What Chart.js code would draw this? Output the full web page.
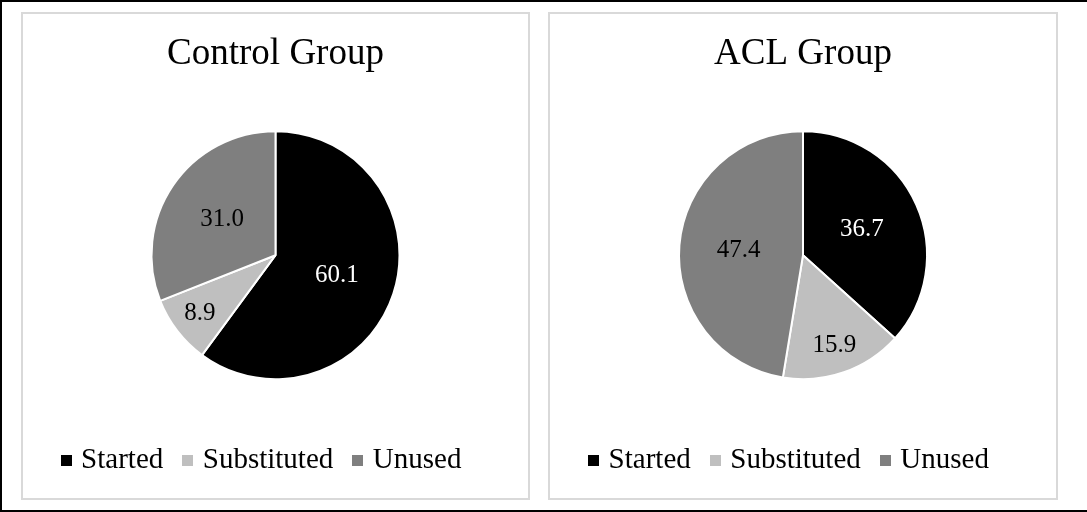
<!DOCTYPE html>
<html>
<head>
<meta charset="utf-8">
<script src="https://cdn.jsdelivr.net/npm/chart.js@4.4.1/dist/chart.umd.min.js"></script>
<style>
  body { margin: 0; background: #fff; }
  #frame {
    position: relative; width: 1087px; height: 512px; box-sizing: border-box;
    border-top: 2px solid #000; border-left: 2px solid #000; border-bottom: 2px solid #000;
    overflow: hidden; background: #fff;
  }
  .panel { position: absolute; top: 10px; height: 488px; border: 2px solid #d9d9d9; box-sizing: border-box; }
  #panelA { left: 19px; width: 509px; }
  #panelB { left: 546px; width: 510px; }
  .panel canvas { position: absolute; left: 0; top: 0; }
</style>
</head>
<body>
<div id="frame">
  <div class="panel" id="panelA"><canvas id="chartA" width="505" height="471"></canvas></div>
  <div class="panel" id="panelB"><canvas id="chartB" width="506" height="471"></canvas></div>
</div>
<script>
// shares of players per group (%)
const categories = ['Started', 'Substituted', 'Unused'];
const controlValues = [60.1, 8.9, 31.0];
const aclValues = [36.7, 15.9, 47.4];
const groupTitles = ['Control Group', 'ACL Group'];
const sliceColors = ['#000000', '#bfbfbf', '#7f7f7f'];

const serif = '"Liberation Serif", "Times New Roman", serif';

// small filled square used as the legend marker
function squareMarker(color) {
  var c = document.createElement('canvas');
  c.width = 11;
  c.height = 11;
  var g = c.getContext('2d');
  g.fillStyle = color;
  g.fillRect(0, 0, 11, 11);
  return c;
}

// value labels inside each slice, small slices get pushed further out
const sliceLabels = {
  id: 'sliceLabels',
  afterLayout(chart) {
    // legend sits a little left of the panel centre
    chart.legend.left -= 12;
    chart.legend.right -= 12;
  },
  afterDatasetsDraw(chart) {
    var ctx = chart.ctx;
    var meta = chart.getDatasetMeta(0);
    var values = chart.data.datasets[0].data;
    ctx.save();
    ctx.font = '25px ' + serif;
    ctx.textAlign = 'center';
    ctx.textBaseline = 'middle';
    meta.data.forEach(function (arc, i) {
      var p = arc.getProps(['x', 'y', 'startAngle', 'endAngle', 'outerRadius'], true);
      var mid = (p.startAngle + p.endAngle) / 2;
      var r = p.outerRadius * (values[i] < 20 ? 0.77 : 0.52);
      ctx.fillStyle = sliceColors[i] === '#000000' ? '#ffffff' : '#000000';
      ctx.fillText(values[i].toFixed(1), p.x + Math.cos(mid) * r, p.y + Math.sin(mid) * r);
    });
    ctx.restore();
  }
};

function makePie(canvasId, title, values) {
  var ctx = document.getElementById(canvasId).getContext('2d');
  return new Chart(ctx, {
    type: 'pie',
    data: {
      labels: categories,
      datasets: [{
        data: values,
        backgroundColor: sliceColors,
        borderColor: '#ffffff',
        borderWidth: 2,
        radius: 124
      }]
    },
    options: {
      responsive: false,
      animation: false,
      layout: { padding: 0 },
      plugins: {
        title: {
          display: true,
          text: title,
          color: '#000',
          font: { family: serif, size: 37, weight: 'normal' },
          padding: { top: 18, bottom: 12 }
        },
        legend: {
          position: 'bottom',
          labels: {
            color: '#000',
            font: { family: serif, size: 29 },
            usePointStyle: true,
            boxWidth: 1,
            boxHeight: 11,
            padding: 24,
            generateLabels: function (chart) {
              var items = Chart.overrides.pie.plugins.legend.labels.generateLabels(chart);
              items.forEach(function (it, i) {
                it.lineWidth = 0;
                it.pointStyle = squareMarker(sliceColors[i]);
              });
              return items;
            }
          }
        },
        tooltip: { enabled: false }
      }
    },
    plugins: [sliceLabels]
  });
}

makePie('chartA', groupTitles[0], controlValues);
makePie('chartB', groupTitles[1], aclValues);
</script>
</body>
</html>
